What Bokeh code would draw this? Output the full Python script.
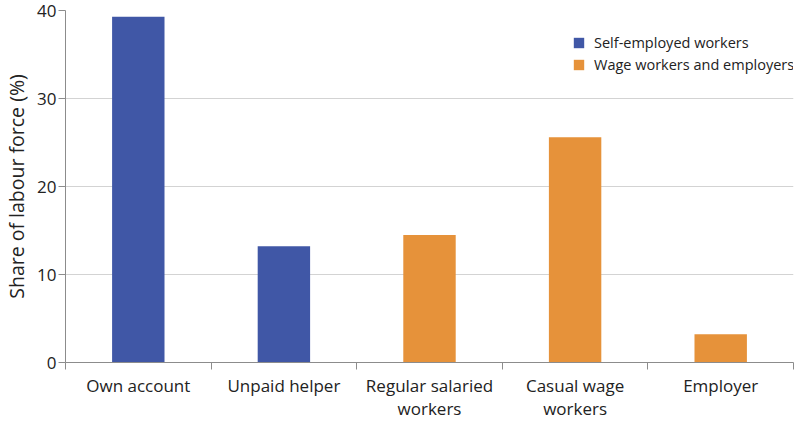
from bokeh.plotting import figure
from bokeh.models import Range1d, FixedTicker, ColumnDataSource, Legend, LegendItem
from bokeh.embed import file_html
from bokeh.resources import INLINE

categories = ["Own account", "Unpaid helper", "Regular salaried\nworkers", "Casual wage\nworkers", "Employer"]
values = [39.3, 13.2, 14.5, 25.6, 3.2]
groups = ["Self-employed workers", "Self-employed workers", "Wage workers and employers",
          "Wage workers and employers", "Wage workers and employers"]
series_names = ["Self-employed workers", "Wage workers and employers"]
series_colors = ["#4057A6", "#E6923A"]
y_ticks = [0, 10, 20, 30, 40]

FONT = "Open Sans"
TXT = "#222222"
AXC = "#8c8c8c"

p = figure(width=794, height=422, output_backend="svg", toolbar_location=None,
           x_range=Range1d(0, len(categories)), y_range=Range1d(0, 40),
           min_border_left=4, min_border_right=1, min_border_top=10, min_border_bottom=0)
p.outline_line_color = None

centers = [i + 0.5 for i in range(len(categories))]
renderers = []
for name, col in zip(series_names, series_colors):
    xs = [c for c, g in zip(centers, groups) if g == name]
    ys = [v for v, g in zip(values, groups) if g == name]
    src = ColumnDataSource(dict(x=xs, top=ys))
    r = p.vbar(x="x", top="top", width=0.36, bottom=0, source=src, fill_color=col, line_color=None)
    renderers.append((name, r))

# x axis: labels at centers, tick marks at boundaries (minor ticks)
xa = p.xaxis[0]
xa.ticker = FixedTicker(ticks=centers, minor_ticks=list(range(len(categories) + 1)))
xa.major_label_overrides = {c: lab for c, lab in zip(centers, categories)}
xa.major_tick_line_color = None
xa.major_tick_out = 0
xa.major_tick_in = 0
xa.minor_tick_line_color = AXC
xa.minor_tick_out = 7
xa.minor_tick_in = 0
xa.axis_line_color = AXC
xa.major_label_text_font = FONT
xa.major_label_text_font_size = "17px"
xa.major_label_text_color = TXT
xa.major_label_text_line_height = 1.0
xa.major_label_standoff = 4

ya = p.yaxis[0]
ya.ticker = FixedTicker(ticks=y_ticks)
ya.minor_tick_line_color = None
ya.major_tick_out = 7
ya.major_tick_in = 0
ya.major_tick_line_color = AXC
ya.axis_line_color = AXC
ya.major_label_text_font = FONT
ya.major_label_text_font_size = "17px"
ya.major_label_text_color = TXT
ya.major_label_standoff = 2
ya.axis_label = "Share of labour force (%)"
ya.axis_label_text_font = FONT
ya.axis_label_text_font_size = "19.5px"
ya.axis_label_text_font_style = "normal"
ya.axis_label_text_color = TXT
ya.axis_label_standoff = 4

p.xgrid.grid_line_color = None
p.ygrid.ticker = FixedTicker(ticks=y_ticks)
p.ygrid.grid_line_color = "#d3d3d3"
p.ygrid.grid_line_width = 1.2

legend = Legend(items=[LegendItem(label=n, renderers=[r]) for n, r in renderers],
                location=(507, 288), border_line_color=None, background_fill_alpha=1,
                label_text_font=FONT, label_text_font_size="14.5px", label_text_color=TXT,
                glyph_width=13, glyph_height=13, spacing=3, padding=4,
                margin=0, label_standoff=9, label_height=18)
p.add_layout(legend)

open("out.html", "w").write(file_html(p, INLINE))
